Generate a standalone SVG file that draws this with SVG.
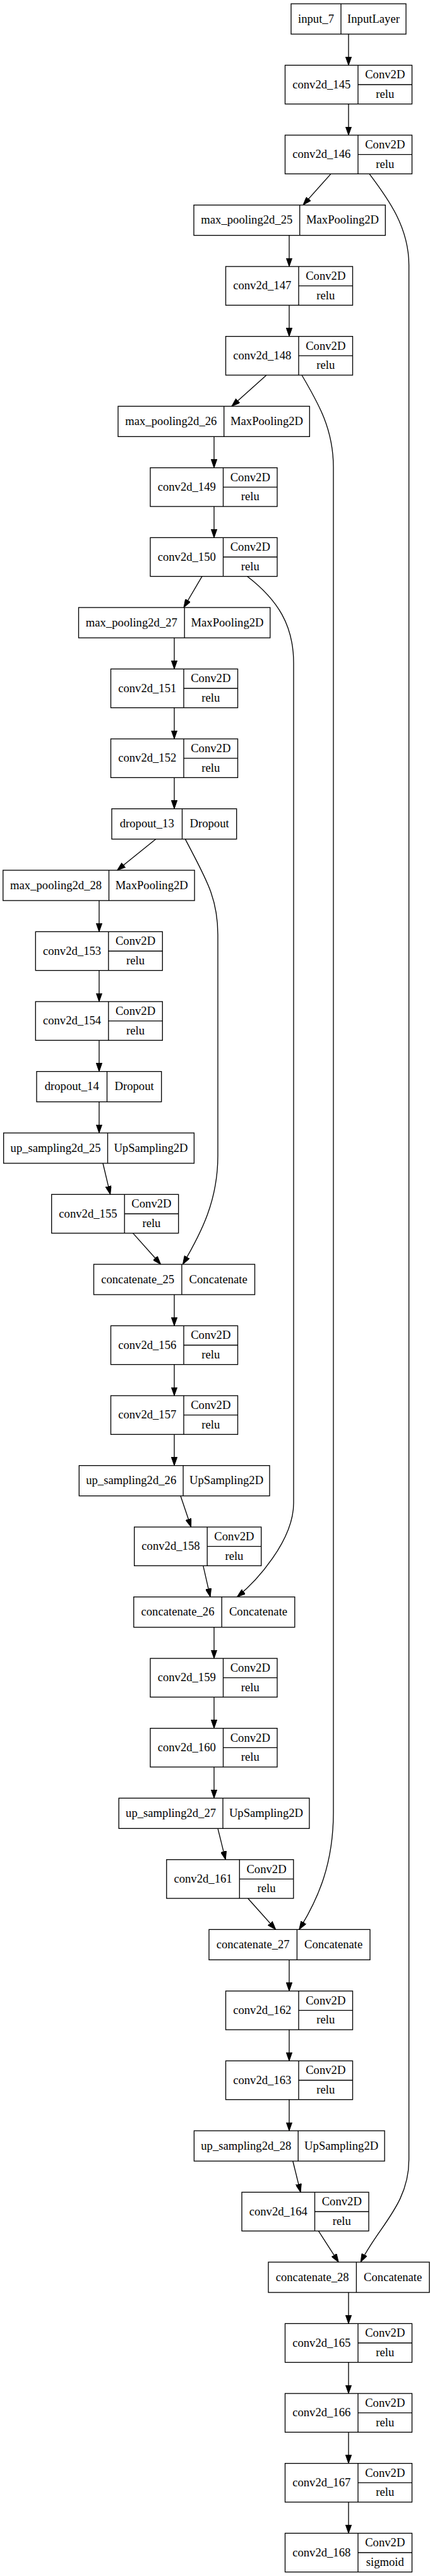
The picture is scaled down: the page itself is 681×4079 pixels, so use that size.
<svg xmlns="http://www.w3.org/2000/svg" width="681" height="4079" viewBox="0 0 681 4079">
<style>
.n rect{fill:#fff;stroke:#000;stroke-width:1.33}
.n line{stroke:#000;stroke-width:1.33}
.n text{font-family:"Liberation Serif","Times New Roman",serif;font-size:18.67px;text-anchor:middle;fill:#000}
#edges path{fill:none;stroke:#000;stroke-width:1.33;marker-end:url(#ah)}
</style>
<defs>
<marker id="ah" markerUnits="userSpaceOnUse" viewBox="0 0 13.33 9.33" markerWidth="13.33" markerHeight="9.33" refX="13.33" refY="4.67" orient="auto"><path d="M0,0 L13.33,4.67 L0,9.33 z" fill="#000" stroke="#000" stroke-width="1"/></marker>
</defs>
<rect x="0" y="0" width="681" height="4079" fill="#fff"/>
<g id="edges">
<path d="M552,54 L552,103.33"/>
<path d="M552,164.67 L552,214"/>
<path d="M524,275.33 L480,324.67"/>
<path d="M458,372.67 L458,422"/>
<path d="M458,483.33 L458,532.67"/>
<path d="M422,594 L367,643.33"/>
<path d="M339,691.33 L339,740.67"/>
<path d="M339,802 L339,851.33"/>
<path d="M320,912.67 L291,962"/>
<path d="M276,1010 L276,1059.33"/>
<path d="M276,1120.67 L276,1170"/>
<path d="M276,1231.33 L276,1280.67"/>
<path d="M246.7,1328.67 L185.6,1378"/>
<path d="M157,1426 L157,1475.33"/>
<path d="M157,1536.67 L157,1586"/>
<path d="M157,1647.33 L157,1696.67"/>
<path d="M157,1744.67 L157,1794"/>
<path d="M163,1842 L174.7,1891.33"/>
<path d="M210.5,1952.67 L254.6,2002"/>
<path d="M276,2050 L276,2099.33"/>
<path d="M276,2160.67 L276,2210"/>
<path d="M276,2271.33 L276,2320.67"/>
<path d="M286,2368.67 L302.6,2418"/>
<path d="M321.8,2479.33 L333,2528.67"/>
<path d="M339,2576.67 L339,2626"/>
<path d="M339,2687.33 L339,2736.67"/>
<path d="M339,2798 L339,2847.33"/>
<path d="M345,2895.33 L357.2,2944.67"/>
<path d="M392.6,3006 L436.7,3055.33"/>
<path d="M458,3103.33 L458,3152.67"/>
<path d="M458,3214 L458,3263.33"/>
<path d="M458,3324.67 L458,3374"/>
<path d="M463.8,3422 L476,3471.33"/>
<path d="M504.4,3532.67 L536.2,3582"/>
<path d="M552,3630 L552,3679.33"/>
<path d="M552,3740.67 L552,3790"/>
<path d="M552,3851.33 L552,3900.67"/>
<path d="M552,3962 L552,4011.33"/>
<path d="M585,275.33 C615,315 647.6,360 647.6,420 L647.6,3420 C647.6,3490 600,3525 571.2,3582"/>
<path d="M478,594 C505,640 528,680 528,740 L528,2870 C528,2950 505,3005 473.8,3055.33"/>
<path d="M391.7,912.67 C440,950 465,990 465,1050 L465,2380 C465,2440 405,2505 375.5,2528.67"/>
<path d="M293.4,1328.67 C325,1390 345,1420 345,1480 L345,1830 C345,1900 320,1950 289.5,2002"/>
</g>
<g id="input_7" class="n" transform="translate(461,6)"><rect width="182" height="48"/><line x1="79" y1="0" x2="79" y2="48"/><text x="39.5" y="29.6">input_7</text><text x="130.5" y="29.6">InputLayer</text></g>
<g id="conv2d_145" class="n" transform="translate(451.5,103.33)"><rect width="201" height="61.33"/><line x1="115.5" y1="0" x2="115.5" y2="61.33"/><line x1="115.5" y1="30.67" x2="201" y2="30.67"/><text x="57.75" y="36.3">conv2d_145</text><text x="158.25" y="20.9">Conv2D</text><text x="158.25" y="51.6">relu</text></g>
<g id="conv2d_146" class="n" transform="translate(451.5,214)"><rect width="201" height="61.33"/><line x1="115.5" y1="0" x2="115.5" y2="61.33"/><line x1="115.5" y1="30.67" x2="201" y2="30.67"/><text x="57.75" y="36.3">conv2d_146</text><text x="158.25" y="20.9">Conv2D</text><text x="158.25" y="51.6">relu</text></g>
<g id="max_pooling2d_25" class="n" transform="translate(307,324.67)"><rect width="303.3" height="48"/><line x1="167.7" y1="0" x2="167.7" y2="48"/><text x="83.85" y="29.6">max_pooling2d_25</text><text x="235.5" y="29.6">MaxPooling2D</text></g>
<g id="conv2d_147" class="n" transform="translate(357.5,422)"><rect width="201" height="61.33"/><line x1="115.5" y1="0" x2="115.5" y2="61.33"/><line x1="115.5" y1="30.67" x2="201" y2="30.67"/><text x="57.75" y="36.3">conv2d_147</text><text x="158.25" y="20.9">Conv2D</text><text x="158.25" y="51.6">relu</text></g>
<g id="conv2d_148" class="n" transform="translate(357.5,532.67)"><rect width="201" height="61.33"/><line x1="115.5" y1="0" x2="115.5" y2="61.33"/><line x1="115.5" y1="30.67" x2="201" y2="30.67"/><text x="57.75" y="36.3">conv2d_148</text><text x="158.25" y="20.9">Conv2D</text><text x="158.25" y="51.6">relu</text></g>
<g id="max_pooling2d_26" class="n" transform="translate(187,643.33)"><rect width="303.3" height="48"/><line x1="167.7" y1="0" x2="167.7" y2="48"/><text x="83.85" y="29.6">max_pooling2d_26</text><text x="235.5" y="29.6">MaxPooling2D</text></g>
<g id="conv2d_149" class="n" transform="translate(238,740.67)"><rect width="201" height="61.33"/><line x1="115.5" y1="0" x2="115.5" y2="61.33"/><line x1="115.5" y1="30.67" x2="201" y2="30.67"/><text x="57.75" y="36.3">conv2d_149</text><text x="158.25" y="20.9">Conv2D</text><text x="158.25" y="51.6">relu</text></g>
<g id="conv2d_150" class="n" transform="translate(238,851.33)"><rect width="201" height="61.33"/><line x1="115.5" y1="0" x2="115.5" y2="61.33"/><line x1="115.5" y1="30.67" x2="201" y2="30.67"/><text x="57.75" y="36.3">conv2d_150</text><text x="158.25" y="20.9">Conv2D</text><text x="158.25" y="51.6">relu</text></g>
<g id="max_pooling2d_27" class="n" transform="translate(124.5,962)"><rect width="303.3" height="48"/><line x1="167.7" y1="0" x2="167.7" y2="48"/><text x="83.85" y="29.6">max_pooling2d_27</text><text x="235.5" y="29.6">MaxPooling2D</text></g>
<g id="conv2d_151" class="n" transform="translate(175.5,1059.33)"><rect width="201" height="61.33"/><line x1="115.5" y1="0" x2="115.5" y2="61.33"/><line x1="115.5" y1="30.67" x2="201" y2="30.67"/><text x="57.75" y="36.3">conv2d_151</text><text x="158.25" y="20.9">Conv2D</text><text x="158.25" y="51.6">relu</text></g>
<g id="conv2d_152" class="n" transform="translate(175.5,1170)"><rect width="201" height="61.33"/><line x1="115.5" y1="0" x2="115.5" y2="61.33"/><line x1="115.5" y1="30.67" x2="201" y2="30.67"/><text x="57.75" y="36.3">conv2d_152</text><text x="158.25" y="20.9">Conv2D</text><text x="158.25" y="51.6">relu</text></g>
<g id="dropout_13" class="n" transform="translate(177,1280.67)"><rect width="197.7" height="48"/><line x1="111.5" y1="0" x2="111.5" y2="48"/><text x="55.75" y="29.6">dropout_13</text><text x="154.6" y="29.6">Dropout</text></g>
<g id="max_pooling2d_28" class="n" transform="translate(4.8,1378)"><rect width="303.3" height="48"/><line x1="167.7" y1="0" x2="167.7" y2="48"/><text x="83.85" y="29.6">max_pooling2d_28</text><text x="235.5" y="29.6">MaxPooling2D</text></g>
<g id="conv2d_153" class="n" transform="translate(56.3,1475.33)"><rect width="201" height="61.33"/><line x1="115.5" y1="0" x2="115.5" y2="61.33"/><line x1="115.5" y1="30.67" x2="201" y2="30.67"/><text x="57.75" y="36.3">conv2d_153</text><text x="158.25" y="20.9">Conv2D</text><text x="158.25" y="51.6">relu</text></g>
<g id="conv2d_154" class="n" transform="translate(56.3,1586)"><rect width="201" height="61.33"/><line x1="115.5" y1="0" x2="115.5" y2="61.33"/><line x1="115.5" y1="30.67" x2="201" y2="30.67"/><text x="57.75" y="36.3">conv2d_154</text><text x="158.25" y="20.9">Conv2D</text><text x="158.25" y="51.6">relu</text></g>
<g id="dropout_14" class="n" transform="translate(58,1696.67)"><rect width="197.7" height="48"/><line x1="111.5" y1="0" x2="111.5" y2="48"/><text x="55.75" y="29.6">dropout_14</text><text x="154.6" y="29.6">Dropout</text></g>
<g id="up_sampling2d_25" class="n" transform="translate(5.7,1794)"><rect width="301.7" height="48"/><line x1="164.8" y1="0" x2="164.8" y2="48"/><text x="82.4" y="29.6">up_sampling2d_25</text><text x="233.25" y="29.6">UpSampling2D</text></g>
<g id="conv2d_155" class="n" transform="translate(81.7,1891.33)"><rect width="201" height="61.33"/><line x1="115.5" y1="0" x2="115.5" y2="61.33"/><line x1="115.5" y1="30.67" x2="201" y2="30.67"/><text x="57.75" y="36.3">conv2d_155</text><text x="158.25" y="20.9">Conv2D</text><text x="158.25" y="51.6">relu</text></g>
<g id="concatenate_25" class="n" transform="translate(148.5,2002)"><rect width="255" height="48"/><line x1="139.4" y1="0" x2="139.4" y2="48"/><text x="69.7" y="29.6">concatenate_25</text><text x="197.2" y="29.6">Concatenate</text></g>
<g id="conv2d_156" class="n" transform="translate(175.5,2099.33)"><rect width="201" height="61.33"/><line x1="115.5" y1="0" x2="115.5" y2="61.33"/><line x1="115.5" y1="30.67" x2="201" y2="30.67"/><text x="57.75" y="36.3">conv2d_156</text><text x="158.25" y="20.9">Conv2D</text><text x="158.25" y="51.6">relu</text></g>
<g id="conv2d_157" class="n" transform="translate(175.5,2210)"><rect width="201" height="61.33"/><line x1="115.5" y1="0" x2="115.5" y2="61.33"/><line x1="115.5" y1="30.67" x2="201" y2="30.67"/><text x="57.75" y="36.3">conv2d_157</text><text x="158.25" y="20.9">Conv2D</text><text x="158.25" y="51.6">relu</text></g>
<g id="up_sampling2d_26" class="n" transform="translate(125.3,2320.67)"><rect width="301.7" height="48"/><line x1="164.8" y1="0" x2="164.8" y2="48"/><text x="82.4" y="29.6">up_sampling2d_26</text><text x="233.25" y="29.6">UpSampling2D</text></g>
<g id="conv2d_158" class="n" transform="translate(212.7,2418)"><rect width="201" height="61.33"/><line x1="115.5" y1="0" x2="115.5" y2="61.33"/><line x1="115.5" y1="30.67" x2="201" y2="30.67"/><text x="57.75" y="36.3">conv2d_158</text><text x="158.25" y="20.9">Conv2D</text><text x="158.25" y="51.6">relu</text></g>
<g id="concatenate_26" class="n" transform="translate(211.8,2528.67)"><rect width="255" height="48"/><line x1="139.4" y1="0" x2="139.4" y2="48"/><text x="69.7" y="29.6">concatenate_26</text><text x="197.2" y="29.6">Concatenate</text></g>
<g id="conv2d_159" class="n" transform="translate(238,2626)"><rect width="201" height="61.33"/><line x1="115.5" y1="0" x2="115.5" y2="61.33"/><line x1="115.5" y1="30.67" x2="201" y2="30.67"/><text x="57.75" y="36.3">conv2d_159</text><text x="158.25" y="20.9">Conv2D</text><text x="158.25" y="51.6">relu</text></g>
<g id="conv2d_160" class="n" transform="translate(238,2736.67)"><rect width="201" height="61.33"/><line x1="115.5" y1="0" x2="115.5" y2="61.33"/><line x1="115.5" y1="30.67" x2="201" y2="30.67"/><text x="57.75" y="36.3">conv2d_160</text><text x="158.25" y="20.9">Conv2D</text><text x="158.25" y="51.6">relu</text></g>
<g id="up_sampling2d_27" class="n" transform="translate(188.2,2847.33)"><rect width="301.7" height="48"/><line x1="164.8" y1="0" x2="164.8" y2="48"/><text x="82.4" y="29.6">up_sampling2d_27</text><text x="233.25" y="29.6">UpSampling2D</text></g>
<g id="conv2d_161" class="n" transform="translate(263.8,2944.67)"><rect width="201" height="61.33"/><line x1="115.5" y1="0" x2="115.5" y2="61.33"/><line x1="115.5" y1="30.67" x2="201" y2="30.67"/><text x="57.75" y="36.3">conv2d_161</text><text x="158.25" y="20.9">Conv2D</text><text x="158.25" y="51.6">relu</text></g>
<g id="concatenate_27" class="n" transform="translate(331,3055.33)"><rect width="255" height="48"/><line x1="139.4" y1="0" x2="139.4" y2="48"/><text x="69.7" y="29.6">concatenate_27</text><text x="197.2" y="29.6">Concatenate</text></g>
<g id="conv2d_162" class="n" transform="translate(357.5,3152.67)"><rect width="201" height="61.33"/><line x1="115.5" y1="0" x2="115.5" y2="61.33"/><line x1="115.5" y1="30.67" x2="201" y2="30.67"/><text x="57.75" y="36.3">conv2d_162</text><text x="158.25" y="20.9">Conv2D</text><text x="158.25" y="51.6">relu</text></g>
<g id="conv2d_163" class="n" transform="translate(357.5,3263.33)"><rect width="201" height="61.33"/><line x1="115.5" y1="0" x2="115.5" y2="61.33"/><line x1="115.5" y1="30.67" x2="201" y2="30.67"/><text x="57.75" y="36.3">conv2d_163</text><text x="158.25" y="20.9">Conv2D</text><text x="158.25" y="51.6">relu</text></g>
<g id="up_sampling2d_28" class="n" transform="translate(307.4,3374)"><rect width="301.7" height="48"/><line x1="164.8" y1="0" x2="164.8" y2="48"/><text x="82.4" y="29.6">up_sampling2d_28</text><text x="233.25" y="29.6">UpSampling2D</text></g>
<g id="conv2d_164" class="n" transform="translate(383,3471.33)"><rect width="201" height="61.33"/><line x1="115.5" y1="0" x2="115.5" y2="61.33"/><line x1="115.5" y1="30.67" x2="201" y2="30.67"/><text x="57.75" y="36.3">conv2d_164</text><text x="158.25" y="20.9">Conv2D</text><text x="158.25" y="51.6">relu</text></g>
<g id="concatenate_28" class="n" transform="translate(425,3582)"><rect width="255" height="48"/><line x1="139.4" y1="0" x2="139.4" y2="48"/><text x="69.7" y="29.6">concatenate_28</text><text x="197.2" y="29.6">Concatenate</text></g>
<g id="conv2d_165" class="n" transform="translate(451.5,3679.33)"><rect width="201" height="61.33"/><line x1="115.5" y1="0" x2="115.5" y2="61.33"/><line x1="115.5" y1="30.67" x2="201" y2="30.67"/><text x="57.75" y="36.3">conv2d_165</text><text x="158.25" y="20.9">Conv2D</text><text x="158.25" y="51.6">relu</text></g>
<g id="conv2d_166" class="n" transform="translate(451.5,3790)"><rect width="201" height="61.33"/><line x1="115.5" y1="0" x2="115.5" y2="61.33"/><line x1="115.5" y1="30.67" x2="201" y2="30.67"/><text x="57.75" y="36.3">conv2d_166</text><text x="158.25" y="20.9">Conv2D</text><text x="158.25" y="51.6">relu</text></g>
<g id="conv2d_167" class="n" transform="translate(451.5,3900.67)"><rect width="201" height="61.33"/><line x1="115.5" y1="0" x2="115.5" y2="61.33"/><line x1="115.5" y1="30.67" x2="201" y2="30.67"/><text x="57.75" y="36.3">conv2d_167</text><text x="158.25" y="20.9">Conv2D</text><text x="158.25" y="51.6">relu</text></g>
<g id="conv2d_168" class="n" transform="translate(451.5,4011.33)"><rect width="201" height="61.33"/><line x1="115.5" y1="0" x2="115.5" y2="61.33"/><line x1="115.5" y1="30.67" x2="201" y2="30.67"/><text x="57.75" y="36.3">conv2d_168</text><text x="158.25" y="20.9">Conv2D</text><text x="158.25" y="51.6">sigmoid</text></g>
</svg>
